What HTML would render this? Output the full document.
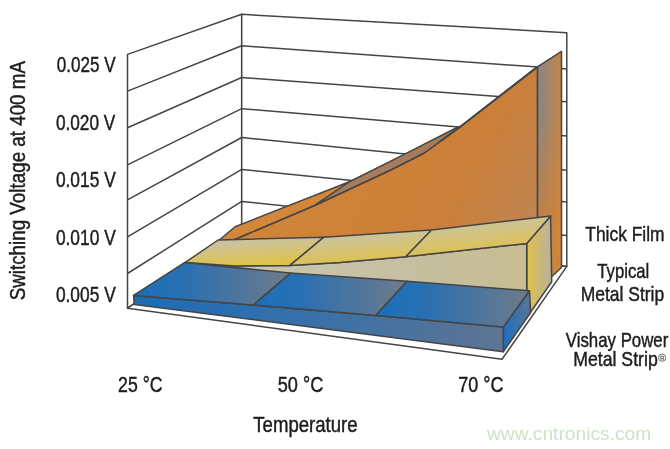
<!DOCTYPE html>
<html><head><meta charset="utf-8"><style>
html,body{margin:0;padding:0;background:#fff;width:670px;height:449px;overflow:hidden}
svg{display:block;will-change:transform}
text{font-family:"Liberation Sans",sans-serif;fill:#1c1c1c;stroke:#1c1c1c;stroke-width:0.45px}
</style></head><body>
<svg width="670" height="449" viewBox="0 0 670 449">
<defs>
<linearGradient id="bTop" x1="0" y1="0" x2="1" y2="0">
<stop offset="0" stop-color="#1b6fba"/><stop offset="0.3" stop-color="#286fb2"/><stop offset="1" stop-color="#6f7b8a"/>
</linearGradient>
<linearGradient id="bFront" gradientUnits="userSpaceOnUse" x1="134" y1="0" x2="503" y2="0">
<stop offset="0" stop-color="#1b6cb9"/><stop offset="0.45" stop-color="#3670ab"/><stop offset="1" stop-color="#5e7492"/>
</linearGradient>
<linearGradient id="bSide" x1="0" y1="0" x2="1" y2="0">
<stop offset="0" stop-color="#1d70c0"/><stop offset="1" stop-color="#5a7595"/>
</linearGradient>
<linearGradient id="yTop" x1="0" y1="0" x2="0.35" y2="1">
<stop offset="0" stop-color="#c4bfa6"/><stop offset="0.3" stop-color="#ccc39a"/><stop offset="1" stop-color="#dfc14a"/>
</linearGradient>
<linearGradient id="yFront" gradientUnits="userSpaceOnUse" x1="250" y1="0" x2="527" y2="0">
<stop offset="0" stop-color="#cbc6b2"/><stop offset="0.6" stop-color="#c5be9f"/><stop offset="1" stop-color="#c8bc92"/>
</linearGradient>
<linearGradient id="ySide" x1="0" y1="0" x2="1" y2="0">
<stop offset="0" stop-color="#e0c04a"/><stop offset="1" stop-color="#b8b29e"/>
</linearGradient>
<linearGradient id="oSideV" gradientUnits="userSpaceOnUse" x1="0" y1="50" x2="0" y2="270">
<stop offset="0" stop-color="#fff"/><stop offset="0.3" stop-color="#fff"/><stop offset="0.8" stop-color="#000"/>
</linearGradient>
<linearGradient id="oSideH" x1="0" y1="0" x2="1" y2="0">
<stop offset="0" stop-color="#8a8784" stop-opacity="1"/><stop offset="1" stop-color="#8a8784" stop-opacity="0.15"/>
</linearGradient>
<mask id="oSideM" maskUnits="userSpaceOnUse" x="530" y="40" width="40" height="260"><rect x="530" y="40" width="40" height="260" fill="url(#oSideV)"/></mask>
<linearGradient id="oSide" x1="0" y1="0" x2="1" y2="0">
<stop offset="0" stop-color="#c27f45"/><stop offset="1" stop-color="#d0873a"/>
</linearGradient>
<filter id="soft" x="-5%" y="-5%" width="110%" height="110%"><feGaussianBlur stdDeviation="0.45"/></filter>
<linearGradient id="oFront" gradientUnits="userSpaceOnUse" x1="330" y1="110" x2="540" y2="225">
<stop offset="0" stop-color="#d08439"/><stop offset="0.6" stop-color="#cc7f38"/><stop offset="1" stop-color="#bd8554"/>
</linearGradient>
</defs>
<g stroke="#454545" stroke-width="1.5" stroke-linejoin="round" fill="#fff" filter="url(#soft)">
<polygon points="127.5,54.4 241.7,14.3 241.7,231.5 127.5,308.2"/>
<polygon points="241.7,14.3 566.8,32.7 566.8,266.4 241.7,231.5"/>
<polygon points="127.5,308.2 241.7,231.5 566.8,266.4 502,359.3"/>
<path fill="none" d="M127.5,91.1L241.7,45.8M127.5,127.8L241.7,77.5M127.5,164.8L241.7,108.7M127.5,199.8L241.7,137.5M127.5,236.8L241.7,169.4M127.5,273.5L241.7,201.4M241.7,45.8L566.8,69.1M241.7,77.5L566.8,101.7M241.7,108.7L566.8,136.0M241.7,137.5L566.8,170.2M241.7,169.4L566.8,202.0M241.7,201.4L566.8,235.6"/>
<polygon fill="url(#oSide)" stroke="none" points="537.4,66.8 561.5,51.3 561.5,267.5 537.4,290"/>
<polygon fill="url(#oSideH)" stroke="none" mask="url(#oSideM)" points="537.4,66.8 561.5,51.3 561.5,267.5 537.4,290"/>
<polygon fill="none" points="537.4,66.8 561.5,51.3 561.5,267.5 537.4,290"/>
<polygon fill="url(#oFront)" points="218,246.3 235.1,239.3 314.5,205.5 390.7,170 424.3,153 460.6,126.5 537.4,66.8 537.4,275 218,275"/>
<polygon fill="#d3873a" points="218.1,241 235.1,226.7 350,181.5 314.5,205.5 235.1,239.3 218.1,246"/>
<polygon fill="#a67c5c" points="314.5,205.5 350,181.5 404.2,154.3 458,127 460.6,126.5 424.3,153 390.7,170"/>
<path fill="none" stroke-width="2.1" d="M440,141.5L460.6,126.5L537.4,66.8"/>
<polygon fill="url(#ySide)" points="526.7,243.4 550.6,216 551.7,281.7 526.7,317.7"/>
<polygon fill="url(#yFront)" points="185.3,262.4 235,265.9 289.9,265.4 340,262.5 405.7,256.8 526.7,243.4 526.7,317 183.4,280"/>
<polygon fill="url(#yTop)" points="185.3,262.4 235,265.9 289.9,265.4 323.9,237.2 218.1,240"/>
<polygon fill="url(#yTop)" points="289.9,265.4 340,262.5 405.7,256.8 431.5,229.9 323.9,237.2"/>
<polygon fill="url(#yTop)" points="405.7,256.8 526.7,243.4 550.6,216 431.5,229.9"/>
<polygon fill="url(#bSide)" points="503.3,327 529.5,290.8 530.6,312.5 503.3,351.8"/>
<polygon fill="url(#bFront)" points="133.6,295.4 253.3,305.1 375.8,315.5 503.3,327 503.3,351.8 134.2,304.4"/>
<polygon fill="url(#bTop)" points="133.6,295.4 184.5,262.6 290.6,273.1 253.3,305.1"/>
<polygon fill="url(#bTop)" points="253.3,305.1 290.6,273.1 407,281.2 375.8,315.5"/>
<polygon fill="url(#bTop)" points="375.8,315.5 407,281.2 529.5,290.8 503.3,327"/>
</g>
<g>
<text x="56.70" y="72.00" font-size="21.3" textLength="58.82" lengthAdjust="spacingAndGlyphs">0.025 V</text>
<text x="55.90" y="129.90" font-size="21.3" textLength="59.41" lengthAdjust="spacingAndGlyphs">0.020 V</text>
<text x="55.90" y="187.20" font-size="21.3" textLength="59.82" lengthAdjust="spacingAndGlyphs">0.015 V</text>
<text x="55.90" y="244.90" font-size="21.3" textLength="59.82" lengthAdjust="spacingAndGlyphs">0.010 V</text>
<text x="55.90" y="302.20" font-size="21.3" textLength="59.82" lengthAdjust="spacingAndGlyphs">0.005 V</text>
<text transform="translate(25.00,300.30) rotate(-90)" x="0" y="0" font-size="21.5" textLength="239.30" lengthAdjust="spacingAndGlyphs">Switching Voltage at 400 mA</text>
<text x="118.10" y="391.90" font-size="21.4" textLength="44.39" lengthAdjust="spacingAndGlyphs">25 °C</text>
<text x="277.70" y="391.90" font-size="21.4" textLength="45.62" lengthAdjust="spacingAndGlyphs">50 °C</text>
<text x="458.20" y="391.90" font-size="21.4" textLength="45.24" lengthAdjust="spacingAndGlyphs">70 °C</text>
<text x="253.30" y="431.90" font-size="22" textLength="104.30" lengthAdjust="spacingAndGlyphs">Temperature</text>
<text x="585.30" y="240.50" font-size="21" textLength="79.30" lengthAdjust="spacingAndGlyphs">Thick Film</text>
<text x="597.30" y="278.40" font-size="21" textLength="51.99" lengthAdjust="spacingAndGlyphs">Typical</text>
<text x="580.70" y="300.80" font-size="21" textLength="83.51" lengthAdjust="spacingAndGlyphs">Metal Strip</text>
<text x="565.80" y="346.70" font-size="21" textLength="102.50" lengthAdjust="spacingAndGlyphs">Vishay Power</text>
<text x="573.20" y="366.00" font-size="21" textLength="84.56" lengthAdjust="spacingAndGlyphs">Metal Strip</text>
</g>
<g fill="none" stroke="#707070" stroke-width="1.0"><circle cx="662.1" cy="357.7" r="3.6"/></g>
<text x="660.2" y="360.2" font-size="5.8" style="fill:#6a6a6a;stroke:#6a6a6a;stroke-width:0.3px">R</text>
<text x="487" y="439.9" font-size="19.2" style="fill:#cfe2c6;stroke:none">www.cntronics.com</text>
</svg>
</body></html>
